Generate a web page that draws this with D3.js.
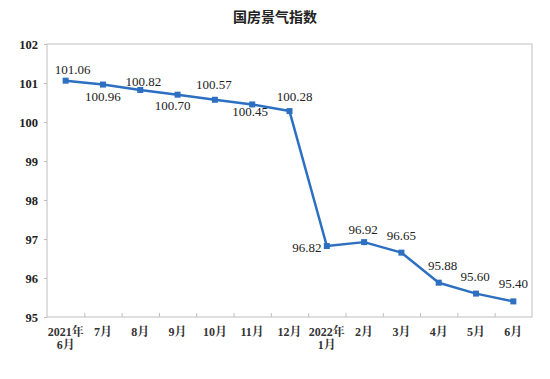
<!DOCTYPE html>
<html><head><meta charset="utf-8">
<script src="https://cdn.jsdelivr.net/npm/d3@7/dist/d3.min.js"></script>
<style>body{margin:0;background:#fff}</style>
</head><body>
<svg id="c" width="550" height="379"></svg>
<script>
const categories = [["2021年","6月"],["7月"],["8月"],["9月"],["10月"],["11月"],["12月"],["2022年","1月"],["2月"],["3月"],["4月"],["5月"],["6月"]];
const values = [101.06,100.96,100.82,100.70,100.57,100.45,100.28,96.82,96.92,96.65,95.88,95.60,95.40];
const yTicks = [95,96,97,98,99,100,101,102];

// layout: label offsets (dx, dy baseline) relative to each marker
const labelOffsets = [[7,-7],[0,16],[3,-4],[-5,15],[-1,-11],[-2,12],[5,-10],[-20,6],[-1,-8],[0,-13],[4,-13],[-1,-13],[0,-13]];

const svg = d3.select("#c");
const m = {l:47, r:532, t:44, b:317};
const x = d3.scaleBand().domain(d3.range(categories.length)).range([m.l, m.r]).padding(0);
const y = d3.scaleLinear().domain([95,102]).range([m.b, m.t]);
const grey = "#bfbfbf";
const SERIF = "Liberation Serif";
const SERIF_CJK = "Liberation Serif, Noto Serif CJK SC";

svg.append("text").attr("x",275).attr("y",22).attr("text-anchor","middle")
  .attr("font-family","Noto Sans CJK SC").attr("font-size",14).attr("font-weight","bold")
  .attr("fill","#222").text("国房景气指数");

svg.append("rect").attr("x",m.l).attr("y",m.t).attr("width",m.r-m.l).attr("height",m.b-m.t)
  .attr("fill","none").attr("stroke",grey).attr("stroke-width",1);

const ya = svg.append("g").attr("transform",`translate(${m.l},0)`)
  .call(d3.axisLeft(y).tickValues(yTicks).tickSize(3).tickPadding(6).tickFormat(d3.format("d")));
ya.attr("font-family",SERIF);
ya.select(".domain").remove();
ya.selectAll("line").attr("stroke",grey);
ya.selectAll("text").attr("font-family",SERIF).attr("font-size",12.5).attr("font-weight","bold").attr("fill","#222");

const bounds = d3.range(1, categories.length).map(i => x(i));
svg.append("g").selectAll("line").data(bounds).join("line")
  .attr("x1",d=>d+0.5).attr("x2",d=>d+0.5).attr("y1",m.b).attr("y2",m.b-4)
  .attr("stroke",grey);
const xl = svg.append("g").selectAll("text").data(categories).join("text")
  .attr("text-anchor","middle").attr("font-family",SERIF_CJK)
  .attr("font-size",12).attr("font-weight","bold").attr("fill","#333")
  .attr("transform",(d,i)=>`translate(${x(i)+x.bandwidth()/2},${m.b+19})`);
xl.selectAll("tspan").data(d=>d).join("tspan").attr("x",0).attr("dy",(d,i)=>i===0?0:13).text(d=>d);

const cx = i => x(i)+x.bandwidth()/2;
const line = d3.line().x((d,i)=>cx(i)).y(d=>y(d));
svg.append("path").datum(values).attr("d",line).attr("fill","none")
  .attr("stroke","#2d6fc0").attr("stroke-width",2.5).attr("stroke-linejoin","round");
svg.append("g").selectAll("rect").data(values).join("rect")
  .attr("x",(d,i)=>cx(i)-3).attr("y",d=>y(d)-3).attr("width",6).attr("height",6).attr("fill","#2d6fc0");

svg.append("g").selectAll("text").data(values).join("text")
  .attr("x",(d,i)=>cx(i)+labelOffsets[i][0])
  .attr("y",(d,i)=>y(d)+labelOffsets[i][1])
  .attr("text-anchor","middle").attr("font-family",SERIF).attr("font-size",13).attr("fill","#222")
  .text(d=>d.toFixed(2));
</script>
</body></html>
